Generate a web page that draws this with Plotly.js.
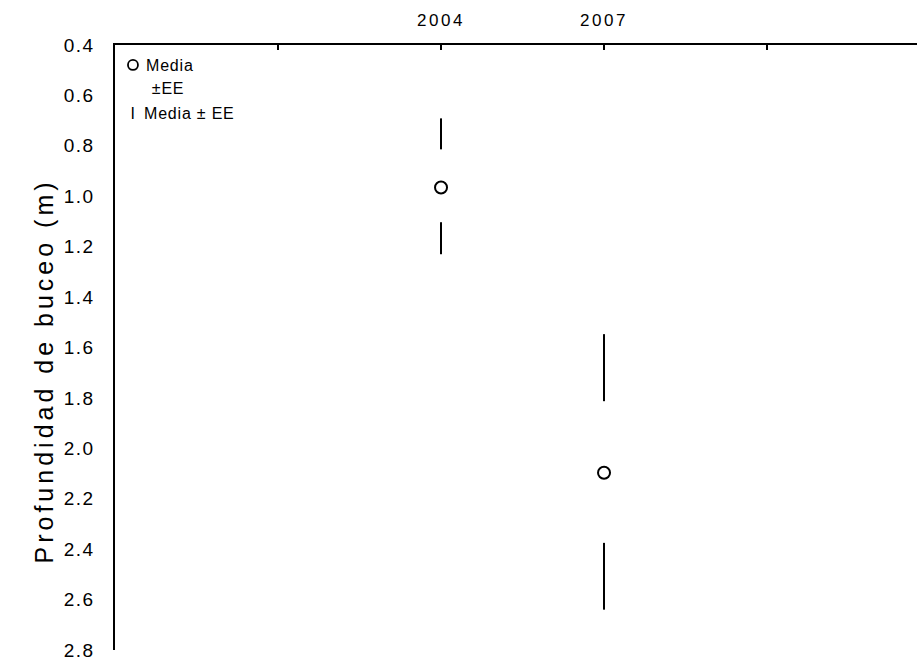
<!DOCTYPE html>
<html>
<head>
<meta charset="utf-8">
<script src="https://cdn.plot.ly/plotly-3.0.1.min.js"></script>
<style>
  html, body { margin: 0; padding: 0; background: #fff; }
  #chart { width: 917px; height: 664px; }
  /* wide glyph advance, as in the printed figure */
  #chart g.xtick text { letter-spacing: 2.5px; }
  #chart g.ytick text { letter-spacing: 1.5px; }
  #chart g.annotation text { letter-spacing: 0.8px; }
  #chart g.annotation[data-index="0"] text { letter-spacing: 4px; }
</style>
</head>
<body>
<div id="chart"></div>
<script>
// Survey years and their slot on the top axis
const years = ["2004", "2007"];
const yearPos = [2, 3];
const axisSlots = [1, 2, 3, 4];
const axisSlotLabels = ["", "2004", "2007", ""];

// Mean dive depth (m)
const meanDepth = [0.965, 2.097];

// Bars drawn above and below each mean (m)
const upperBarTop = [0.691, 1.547];
const upperBarBottom = [0.814, 1.813];
const lowerBarTop = [1.103, 2.375];
const lowerBarBottom = [1.230, 2.640];

const yTicks = [0.4, 0.6, 0.8, 1.0, 1.2, 1.4, 1.6, 1.8, 2.0, 2.2, 2.4, 2.6, 2.8];

// Build the vertical bar segments, separated by gaps
const segX = [], segY = [];
for (let i = 0; i < years.length; i++) {
  segX.push(yearPos[i], yearPos[i], null, yearPos[i], yearPos[i], null);
  segY.push(upperBarTop[i], upperBarBottom[i], null, lowerBarTop[i], lowerBarBottom[i], null);
}

const font = "Liberation Sans, Arial, sans-serif";

const traces = [
  {
    x: segX, y: segY, type: "scatter", mode: "lines",
    line: { color: "#000", width: 2 },
    connectgaps: false, showlegend: false, hoverinfo: "skip"
  },
  {
    x: yearPos, y: meanDepth, type: "scatter", mode: "markers",
    marker: { symbol: "circle-open", size: 12, color: "#000", line: { width: 2, color: "#000" } },
    showlegend: false, text: years
  }
];

const layout = {
  width: 917, height: 664,
  margin: { l: 115, r: 0, t: 45, b: 14 },
  paper_bgcolor: "#fff", plot_bgcolor: "#fff",
  showlegend: false,
  font: { family: font, color: "#000" },
  xaxis: {
    side: "top", range: [0, 4.92],
    tickmode: "array", tickvals: axisSlots, ticktext: axisSlotLabels,
    ticks: "inside", ticklen: 5, tickwidth: 2, tickcolor: "#000",
    showline: true, linecolor: "#000", linewidth: 2.5,
    showgrid: false, zeroline: false,
    tickfont: { family: font, size: 17, color: "#000" },
    ticklabelstandoff: 10
  },
  yaxis: {
    range: [2.8, 0.4], autorange: false,
    tickmode: "array", tickvals: yTicks, ticktext: yTicks.map(v => v.toFixed(1)),
    ticks: "", showline: true, linecolor: "#000", linewidth: 2.5,
    showgrid: false, zeroline: false,
    tickfont: { family: font, size: 19, color: "#000" },
    ticklabelstandoff: 14
  },
  annotations: [
    {
      text: "Profundidad de buceo (m)", textangle: -90,
      xref: "paper", yref: "paper", x: -0.0873, y: 0.4620,
      xanchor: "center", yanchor: "middle", showarrow: false,
      font: { family: font, size: 25, color: "#000" }
    },
    {
      text: "Media", xref: "paper", yref: "paper", x: 0.0387, y: 0.9653,
      xanchor: "left", yanchor: "middle", showarrow: false,
      font: { family: font, size: 16, color: "#000" }
    },
    {
      text: "±EE", xref: "paper", yref: "paper", x: 0.0449, y: 0.9273,
      xanchor: "left", yanchor: "middle", showarrow: false,
      font: { family: font, size: 16, color: "#000" }
    },
    {
      text: "I", xref: "paper", yref: "paper", x: 0.0224, y: 0.8870,
      xanchor: "center", yanchor: "middle", showarrow: false,
      font: { family: font, size: 16, color: "#000" }
    },
    {
      text: "Media ± EE", xref: "paper", yref: "paper", x: 0.0387, y: 0.8870,
      xanchor: "left", yanchor: "middle", showarrow: false,
      font: { family: font, size: 16, color: "#000" }
    }
  ],
  shapes: [
    {
      type: "circle", xref: "paper", yref: "paper",
      xsizemode: "pixel", ysizemode: "pixel",
      xanchor: 0.0224, yanchor: 0.9670,
      x0: -5, x1: 5, y0: -5, y1: 5,
      line: { color: "#000", width: 1.8 }
    }
  ]
};

Plotly.newPlot("chart", traces, layout, { displayModeBar: false, staticPlot: true });
</script>
</body>
</html>
